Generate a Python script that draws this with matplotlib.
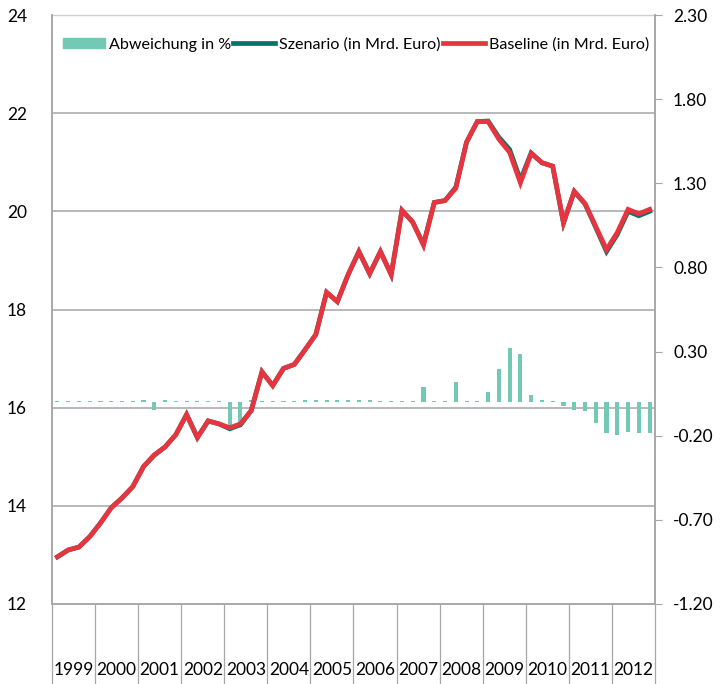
import numpy as np
import matplotlib.pyplot as plt
from matplotlib.patches import Patch
from matplotlib.lines import Line2D
from matplotlib.transforms import blended_transform_factory

plt.rcParams['font.family'] = ['Lato', 'DejaVu Sans']

# quarterly data 1999Q1 .. 2012Q4
years = [str(y) for y in range(1999, 2013)]

baseline = [12.96, 13.10, 13.16, 13.37,
            13.65, 13.96, 14.16, 14.39,
            14.80, 15.04, 15.20, 15.45,
            15.86, 15.39, 15.73, 15.67,
            15.59, 15.67, 15.94, 16.73,
            16.45, 16.80, 16.88, 17.18,
            17.49, 18.35, 18.16, 18.71,
            19.18, 18.73, 19.18, 18.71,
            20.02, 19.78, 19.31, 20.18,
            20.22, 20.47, 21.41, 21.83,
            21.83, 21.47, 21.20, 20.58,
            21.18, 20.99, 20.92, 19.77,
            20.41, 20.16, 19.69, 19.22,
            19.57, 20.04, 19.95, 20.04]

szenario = [12.96, 13.10, 13.16, 13.37,
            13.65, 13.96, 14.16, 14.39,
            14.80, 15.03, 15.20, 15.45,
            15.86, 15.39, 15.73, 15.67,
            15.57, 15.65, 15.94, 16.73,
            16.45, 16.80, 16.88, 17.18,
            17.49, 18.35, 18.16, 18.71,
            19.18, 18.73, 19.18, 18.71,
            20.02, 19.78, 19.33, 20.18,
            20.22, 20.49, 21.41, 21.83,
            21.84, 21.51, 21.26, 20.64,
            21.19, 20.99, 20.92, 19.76,
            20.40, 20.15, 19.67, 19.18,
            19.53, 20.00, 19.91, 20.00]

abweichung = [0.008, 0.008, 0.008, 0.008,
              0.008, 0.008, 0.008, 0.009,
              0.011, -0.048, 0.011, 0.008,
              0.008, 0.008, 0.008, 0.008,
              -0.150, -0.130, 0.010, 0.008,
              0.008, 0.008, 0.009, 0.010,
              0.011, 0.011, 0.011, 0.014,
              0.014, 0.011, 0.009, 0.009,
              0.007, 0.007, 0.087, 0.007,
              0.007, 0.119, 0.009, 0.009,
              0.060, 0.198, 0.321, 0.288,
              0.042, 0.012, 0.008, -0.024,
              -0.046, -0.052, -0.123, -0.185,
              -0.196, -0.180, -0.183, -0.185]

left_ticks = [12, 14, 16, 18, 20, 22, 24]
right_ticks = [-1.2, -0.7, -0.2, 0.3, 0.8, 1.3, 1.8, 2.3]

c_bar = '#74C9B5'
c_szen = '#00766A'
c_base = '#E8343F'
c_grid = '#A6A6A6'

x = np.arange(len(baseline))

fig = plt.figure(figsize=(7.2, 6.84), dpi=100)
ax = fig.add_axes([52 / 720, 80 / 684, 603 / 720, 589 / 684])
ax2 = ax.twinx()
ax.set_zorder(2)
ax2.set_zorder(1)
ax.patch.set_visible(False)

# bars on right axis
ax2.bar(x, abweichung, width=0.38, color=c_bar, zorder=2)
ax2.set_ylim(-1.2, 2.3)
ax2.set_yticks(right_ticks)
ax2.set_yticklabels(['%.2f' % v for v in right_ticks])
ax2.tick_params(axis='y', length=5, color=c_grid, pad=8, labelsize=12.5)

# gridlines (left-axis values) drawn below the bars
tr = blended_transform_factory(ax2.transAxes, ax.transData)
for v in left_ticks[1:-1]:
    ax2.plot([0, 1], [v, v], transform=tr, color=c_grid, lw=1.1, zorder=0)
ax2.plot([0, 1], [24, 24], transform=tr, color='#D0D0D0', lw=1.0, zorder=0,
         clip_on=False)

# lines on left axis
ax.plot(x, szenario, color=c_szen, lw=3.4, solid_joinstyle='miter')
ax.plot(x, baseline, color=c_base, lw=3.4, solid_joinstyle='miter')
ax.set_ylim(12, 24)
ax.set_yticks(left_ticks)
ax.tick_params(axis='y', length=0, pad=18, labelsize=12.5)

ax.set_xlim(-0.5, len(x) - 0.5)
ax.set_xticks(np.arange(-0.5, len(x), 4))
ax.set_xticklabels([])
ax.tick_params(axis='x', which='major', length=58, width=0.9, color=c_grid)
ax.set_xticks(np.arange(1.5, len(x), 4), minor=True)
ax.set_xticklabels(years, minor=True)
ax.tick_params(axis='x', which='minor', length=0, pad=42, labelsize=12.5)
ax2.tick_params(axis='x', length=0, labelbottom=False)

for a in (ax, ax2):
    a.spines['top'].set_visible(False)
    for s in ('left', 'right', 'bottom'):
        a.spines[s].set_color(c_grid)
        a.spines[s].set_linewidth(1.1)

handles = [Patch(color=c_bar),
           Line2D([], [], color=c_szen, lw=3.4),
           Line2D([], [], color=c_base, lw=3.4)]
labels = ['Abweichung in %', 'Szenario (in Mrd. Euro)', 'Baseline (in Mrd. Euro)']
ax.legend(handles, labels, ncol=3, loc='center', bbox_to_anchor=(0.504, 0.95),
          frameon=False, fontsize=11.6, handlelength=2.6, handleheight=0.6,
          handletextpad=0.25, columnspacing=0.15, borderpad=0)

fig.savefig('out.png', dpi=100)
